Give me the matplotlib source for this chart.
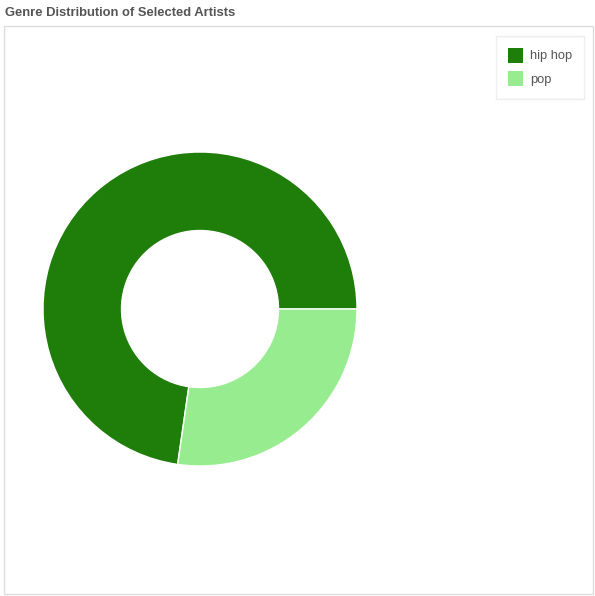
import matplotlib
matplotlib.use("Agg")
import matplotlib.pyplot as plt
from matplotlib.patches import Rectangle

genres = ["hip hop", "pop"]
counts = [8, 3]
colors = ["#1f7d0a", "#98ec90"]
title = "Genre Distribution of Selected Artists"

W, H = 595, 596
fig = plt.figure(figsize=(W / 100, H / 100), dpi=100)
ax = fig.add_axes([0, 0, 1, 1])

# panel border
ax.add_patch(Rectangle((3.5, H - 593.5), 589, 568, fill=False, edgecolor="#dddddd", linewidth=1))

cx, cy, R = 200, H - 309, 157
ax.pie(counts, colors=colors, startangle=0, counterclock=True, center=(cx, cy), radius=R,
       wedgeprops=dict(width=R - 78.5, edgecolor="white", linewidth=1), frame=True)
ax.set_xlim(0, W)
ax.set_ylim(0, H)
ax.set_aspect("auto")
ax.axis("off")

fig.text(5 / W, 1 - 13 / H, title, fontsize=9.4, fontweight="bold", color="#555555",
         va="center", ha="left", family="Liberation Sans")

# legend
ax.add_patch(Rectangle((495.5, H - 98.5), 88, 63, fill=False, edgecolor="#eeeeee", linewidth=1))
for i, (g, c) in enumerate(zip(genres, colors)):
    y = 55 + i * 23
    ax.add_patch(Rectangle((508, H - y - 7.5), 15, 15, facecolor=c, edgecolor="none"))
    ax.text(530, H - y - 1.5, g, fontsize=9.3, color="#555555", va="center", ha="left", family="Liberation Sans")

fig.savefig("out.png", dpi=100, facecolor="white")
